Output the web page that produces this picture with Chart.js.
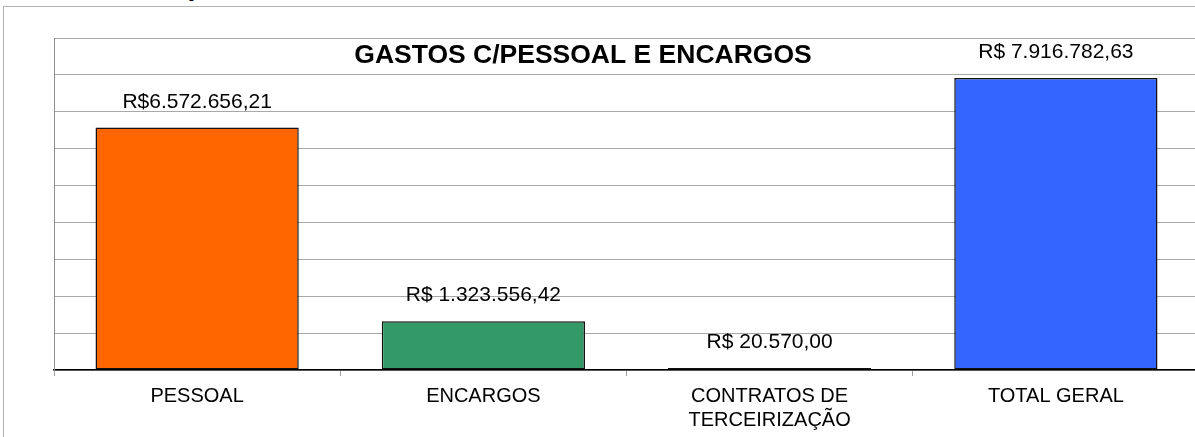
<!DOCTYPE html>
<html>
<head>
<meta charset="utf-8">
<script src="https://cdn.jsdelivr.net/npm/chart.js@4/dist/chart.umd.min.js"></script>
<style>
  html, body { margin: 0; padding: 0; background: #fff; overflow: hidden; }
  #wrap { position: relative; width: 1195px; height: 437px; overflow: hidden; }
  #frame {
    position: absolute; left: 3px; top: 6px; width: 1400px; height: 600px;
    border-left: 1px solid #b4b4b4; border-top: 1px solid #b4b4b4;
  }
  #stray {
    position: absolute; left: 187px; top: -13px;
    font: 16px "Liberation Sans", Arial, sans-serif; color: #000;
  }
  #chart { position: absolute; left: 0; top: 0; }
</style>
</head>
<body>
<div id="wrap">
  <div id="frame"></div>
  <div id="stray">0</div>
  <canvas id="chart" width="1200" height="437"></canvas>
</div>
<script>
  'use strict';

  const chartTitle = 'GASTOS C/PESSOAL E ENCARGOS';
  const categories = ['PESSOAL', 'ENCARGOS', ['CONTRATOS DE', 'TERCEIRIZAÇÃO'], 'TOTAL GERAL'];
  const values = [6572656.21, 1323556.42, 20570.00, 7916782.63];
  const valueLabels = ['R$6.572.656,21', 'R$ 1.323.556,42', 'R$ 20.570,00', 'R$ 7.916.782,63'];
  const barColors = ['#ff6600', '#339966', '#ff6600', '#3366ff'];
  const yMax = 9000000;
  const yStep = 1000000;

  const FONT = '"Liberation Sans", Arial, Helvetica, sans-serif';

  // title sits inside the plot, a bit left of centre like the original
  const titlePlugin = {
    id: 'titleText',
    afterDraw(chart) {
      const { ctx, chartArea } = chart;
      ctx.save();
      ctx.font = 'bold 26.5px ' + FONT;
      ctx.fillStyle = '#000';
      ctx.textAlign = 'center';
      ctx.textBaseline = 'alphabetic';
      ctx.fillText(chartTitle, chartArea.left + chartArea.width * 0.462, chartArea.top + 25);
      ctx.restore();
    }
  };

  const valueLabelPlugin = {
    id: 'valueLabels',
    afterDatasetsDraw(chart) {
      const { ctx } = chart;
      const meta = chart.getDatasetMeta(0);
      ctx.save();
      ctx.font = '21px ' + FONT;
      ctx.fillStyle = '#000';
      ctx.textAlign = 'center';
      ctx.textBaseline = 'alphabetic';
      meta.data.forEach((bar, i) => {
        ctx.fillText(valueLabels[i], bar.x, bar.y - 20);
      });
      ctx.restore();
    }
  };

  const ctx = document.getElementById('chart').getContext('2d');
  new Chart(ctx, {
    type: 'bar',
    data: {
      labels: categories,
      datasets: [{
        data: values,
        backgroundColor: barColors,
        borderColor: '#111',
        borderWidth: 1.5,
        borderSkipped: false,
        minBarLength: 2,
        categoryPercentage: 1,
        barPercentage: 0.71
      }]
    },
    options: {
      responsive: false,
      animation: false,
      devicePixelRatio: 1,
      layout: { padding: { left: 54, top: 38, right: 1, bottom: 0 } },
      plugins: {
        legend: { display: false },
        tooltip: { enabled: false },
        title: { display: false }
      },
      scales: {
        x: {
          grid: {
            offset: true,
            drawOnChartArea: false,
            drawTicks: true,
            tickLength: 6,
            color: '#a0a0a0'
          },
          border: { display: true, color: '#000', width: 1.5 },
          ticks: {
            color: '#000',
            font: { family: FONT, size: 20 },
            padding: 8,
            maxRotation: 0,
            autoSkip: false
          },
          afterFit(scale) { scale.height = 67; }
        },
        y: {
          min: 0,
          max: yMax,
          ticks: { display: false, stepSize: yStep },
          grid: { color: '#a8a8a8', lineWidth: 1, drawTicks: false },
          border: { display: true, color: '#909090', width: 1 },
          afterFit(scale) { scale.width = 0; }
        }
      }
    },
    plugins: [titlePlugin, valueLabelPlugin]
  });
</script>
</body>
</html>
